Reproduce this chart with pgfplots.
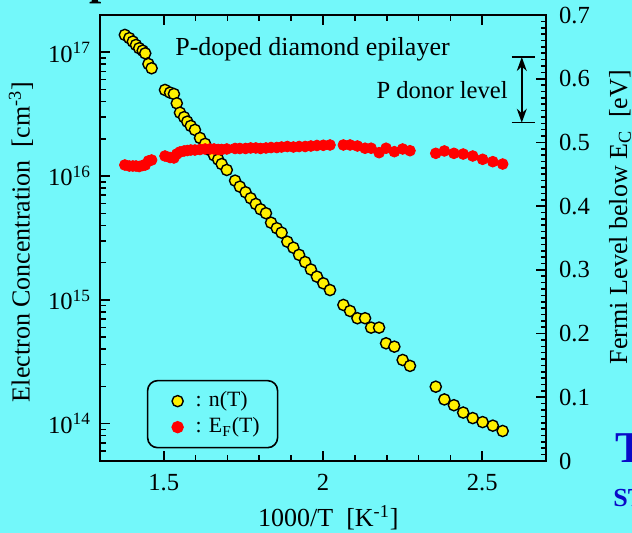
\documentclass[border=0pt]{standalone}
\usepackage{fontspec}
\setmainfont{Liberation Serif}
\usepackage{pgfplots}
\usepackage{pgfplotstable}
\pgfplotsset{compat=1.18}
\usetikzlibrary{arrows.meta}
\definecolor{bgcyan}{RGB}{115,248,250}
\definecolor{myyellow}{RGB}{255,240,0}
\definecolor{myred}{RGB}{255,0,0}
\definecolor{titleblue}{RGB}{10,10,200}

\pgfplotstableread{
x n
1.378 1.38e17
1.392 1.30e17
1.403 1.22e17
1.413 1.145e17
1.423 1.077e17
1.434 1.03e17
1.442 9.8e16
1.452 8.04e16
1.462 7.42e16
1.504 4.96e16
1.520 4.72e16
1.532 4.60e16
1.541 3.87e16
1.551 3.25e16
1.564 2.99e16
1.574 2.75e16
1.585 2.54e16
1.598 2.36e16
1.614 2.03e16
1.630 1.82e16
1.645 1.62e16
1.658 1.47e16
1.671 1.36e16
1.682 1.25e16
1.698 1.12e16
1.724 9.18e15
1.739 8.21e15
1.757 7.40e15
1.773 6.62e15
1.789 5.95e15
1.804 5.39e15
1.821 5.01e15
1.837 4.20e15
1.855 3.79e15
1.870 3.49e15
1.888 2.95e15
1.907 2.64e15
1.925 2.31e15
1.944 2.02e15
1.962 1.76e15
1.981 1.54e15
2.001 1.36e15
2.022 1.20e15
2.064 9.10e14
2.085 8.13e14
2.108 7.11e14
2.132 7.11e14
2.151 5.97e14
2.176 5.97e14
2.198 4.46e14
2.224 4.19e14
2.250 3.27e14
2.273 2.93e14
2.354 1.99e14
2.381 1.57e14
2.411 1.41e14
2.440 1.23e14
2.470 1.11e14
2.501 1.03e14
2.533 9.64e13
2.564 8.73e13
}\ndata

\pgfplotstableread{
x E
1.378 0.4646
1.392 0.4630
1.403 0.4630
1.413 0.4630
1.423 0.4622
1.434 0.4638
1.442 0.4646
1.452 0.4709
1.462 0.4724
1.504 0.4787
1.520 0.4763
1.532 0.4756
1.541 0.4818
1.551 0.4850
1.564 0.4866
1.574 0.4873
1.585 0.4881
1.598 0.4881
1.614 0.4889
1.630 0.4897
1.645 0.4897
1.658 0.4897
1.671 0.4889
1.682 0.4889
1.698 0.4897
1.724 0.4905
1.739 0.4905
1.757 0.4905
1.773 0.4913
1.789 0.4913
1.804 0.4905
1.821 0.4913
1.837 0.4920
1.855 0.4920
1.870 0.4928
1.888 0.4936
1.907 0.4928
1.925 0.4936
1.944 0.4936
1.962 0.4944
1.981 0.4952
2.001 0.4955
2.022 0.4960
2.064 0.4960
2.085 0.4960
2.108 0.4944
2.132 0.4909
2.151 0.4909
2.176 0.4839
2.198 0.4909
2.224 0.4855
2.250 0.4897
2.273 0.4870
2.354 0.4829
2.381 0.4866
2.411 0.4829
2.440 0.4818
2.470 0.4787
2.501 0.4735
2.533 0.4698
2.564 0.4661
}\Edata

\begin{document}
\fontsize{13pt}{15.6pt}\selectfont
\begin{tikzpicture}
\path[use as bounding box, fill=bgcyan] (-50pt,-36pt) rectangle (266pt,230.5pt);
\begin{axis}[
  at={(0pt,0pt)}, anchor=south west,
  width=223pt, height=223pt, scale only axis,
  xmin=1.3, xmax=2.7,
  ymode=log, ymin=5e13, ymax=2e17,
  xtick={1.5,2,2.5}, minor x tick num=4,
  ytick={1e14,1e15,1e16,1e17},
  yticklabels={10\textsuperscript{14},10\textsuperscript{15},10\textsuperscript{16},10\textsuperscript{17}},
  minor ytick={6e13,7e13,8e13,9e13,2e14,3e14,4e14,5e14,6e14,7e14,8e14,9e14,2e15,3e15,4e15,5e15,6e15,7e15,8e15,9e15,2e16,3e16,4e16,5e16,6e16,7e16,8e16,9e16,2e17},
  ytick pos=left,
  tick align=inside,
  major tick length=5pt,
  minor tick length=3pt,
  axis line style={line width=1pt},
  tick style={line width=0.8pt, black},
  /pgf/number format/assume math mode=true,
  tick label style={font=\fontsize{12.3pt}{14pt}\selectfont},
  xticklabel style={yshift=-2pt},
  xlabel={1000/T\ \ [K\textsuperscript{-1}]},
  xlabel style={at={(axis description cs:0.512,-0.128)}, anchor=center},
  ylabel={Electron Concentration\ \ [cm\textsuperscript{-3}]},
  ylabel style={at={(axis description cs:-0.177,0.491)}, anchor=center},
  legend style={at={(axis description cs:0.105,0.028)}, anchor=south west, draw=black, line width=0.8pt, rounded corners=5pt, fill=none, font=\fontsize{10.9pt}{13pt}\selectfont, inner xsep=7pt, inner ysep=3.5pt, row sep=-0.5pt},
  legend cell align=left,
  legend image code/.code={\path[draw=none,fill=none] (0pt,0pt) -- (15pt,0pt); \draw plot coordinates {(8pt,0pt)};},
]
\addplot[only marks, mark=*, mark size=2.8pt, mark options={fill=myyellow, draw=black, line width=0.7pt}] table[x=x,y=n]{\ndata};
\addlegendentry{: n(T)}
\addlegendimage{only marks, mark=*, mark size=2.7pt, color=myred, mark options={draw=none}}
\addlegendentry{: E\textsubscript{F}(T)}
\node[anchor=base west, inner sep=0pt] at (axis description cs:0.168,0.910) {P-doped diamond epilayer};
\node[anchor=base east, inner sep=0pt, font=\fontsize{12.3pt}{14pt}\selectfont] at (axis description cs:0.915,0.8117) {P donor level};
\end{axis}
\begin{axis}[
  at={(0pt,0pt)}, anchor=south west,
  width=223pt, height=223pt, scale only axis,
  xmin=1.3, xmax=2.7,
  ymin=0, ymax=0.7,
  hide x axis,
  axis y line*=right,
  ytick={0,0.1,0.2,0.3,0.4,0.5,0.6,0.7},
  yticklabels={0,0.1,0.2,0.3,0.4,0.5,0.6,0.7},
  minor y tick num=9,
  tick align=inside,
  major tick length=5pt,
  minor tick length=2.4pt,
  axis line style={line width=1pt},
  tick style={line width=0.8pt, black},
  tick label style={font=\fontsize{12.3pt}{14pt}\selectfont},
  yticklabel style={xshift=2pt},
  ylabel={Fermi Level below E\textsubscript{C}\ \ [eV]},
  ylabel style={at={(axis description cs:1.166,0.547)}, anchor=center, rotate=0},
]
\addplot[only marks, mark=*, mark size=2.7pt, color=myred, mark options={draw=none}] table[x=x,y=E]{\Edata};
\draw[line width=0.8pt] (axis cs:2.592,0.634) -- (axis cs:2.665,0.634);
\draw[line width=0.8pt] (axis cs:2.592,0.531) -- (axis cs:2.665,0.531);
\draw[line width=0.8pt, {Stealth[length=7pt,width=5pt]}-{Stealth[length=7pt,width=5pt]}] (axis cs:2.624,0.634) -- (axis cs:2.624,0.531);
\end{axis}
\node[anchor=base west, inner sep=0pt, text=titleblue, font=\fontsize{22pt}{26pt}\selectfont\bfseries] at (257.5pt,-1pt) {T};
\node[anchor=base west, inner sep=0pt, text=titleblue, font=\fontsize{13pt}{15pt}\selectfont\bfseries] at (256.5pt,-23pt) {ST};
\node[anchor=base west, inner sep=0pt, font=\fontsize{22pt}{26pt}\selectfont\bfseries] at (-5.5pt,233.25pt) {p};
\end{tikzpicture}
\end{document}
